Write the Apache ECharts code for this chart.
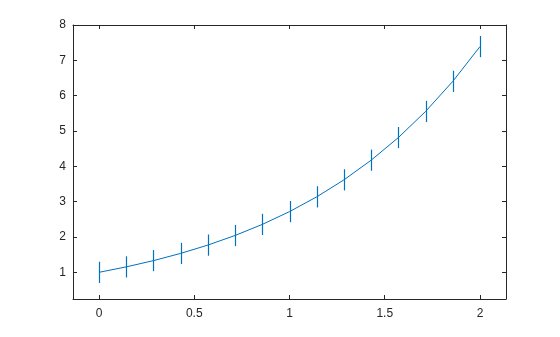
<!DOCTYPE html>
<html><head><meta charset="utf-8">
<script src="https://cdn.jsdelivr.net/npm/echarts@6/dist/echarts.min.js"></script>
<style>html,body{margin:0;padding:0;background:#fff}#c{width:560px;height:337px}</style>
</head><body><div id="c"></div>
<script>
const xValues = [0, 0.1429, 0.2857, 0.4286, 0.5714, 0.7143, 0.8571, 1, 1.1429, 1.2857, 1.4286, 1.5714, 1.7143, 1.8571, 2];
const yValues = [1.0, 1.154, 1.331, 1.535, 1.771, 2.043, 2.356, 2.718, 3.136, 3.617, 4.173, 4.814, 5.553, 6.405, 7.389];
const errValues = [0.3, 0.3, 0.3, 0.3, 0.3, 0.3, 0.3, 0.3, 0.3, 0.3, 0.3, 0.3, 0.3, 0.3, 0.3];
const xTicks = [0, 0.5, 1, 1.5, 2];
const yTicks = [1, 2, 3, 4, 5, 6, 7, 8];

const blue = '#0072BD';
const axisColor = '#262626';
const font = {fontFamily: 'Liberation Sans, Arial, sans-serif', fontSize: 12, color: axisColor};

const lineData = xValues.map((x, i) => [x, yValues[i]]);
const errData = xValues.map((x, i) => [x, yValues[i] - errValues[i], yValues[i] + errValues[i]]);

function xAxisDef(pos, labels) {
  return {
    type: 'value', position: pos, min: -0.1365, max: 2.1365,
    axisLine: {show: true, onZero: false, lineStyle: {color: axisColor, width: 1}},
    axisTick: {show: true, inside: true, length: 4, customValues: xTicks, lineStyle: {color: axisColor}},
    axisLabel: {show: labels, customValues: xTicks, margin: 9, ...font, formatter: v => String(v)},
    splitLine: {show: false}
  };
}
function yAxisDef(pos, labels) {
  return {
    type: 'value', position: pos, min: 0.245, max: 8,
    axisLine: {show: true, onZero: false, lineStyle: {color: axisColor, width: 1}},
    axisTick: {show: true, inside: true, length: 4, customValues: yTicks, lineStyle: {color: axisColor}},
    axisLabel: {show: labels, customValues: yTicks, margin: 7, ...font},
    splitLine: {show: false}
  };
}

const chart = echarts.init(document.getElementById('c'), null, {renderer: 'canvas'});
chart.setOption({
  animation: false,
  backgroundColor: '#fff',
  grid: {left: 73, right: 54, top: 25, bottom: 38, containLabel: false},
  xAxis: [xAxisDef('bottom', true), xAxisDef('top', false)],
  yAxis: [yAxisDef('left', true), yAxisDef('right', false)],
  series: [
    {
      type: 'line', data: lineData, xAxisIndex: 0, yAxisIndex: 0,
      showSymbol: false, smooth: false,
      lineStyle: {color: blue, width: 1}
    },
    {
      type: 'custom', data: errData, xAxisIndex: 0, yAxisIndex: 0,
      encode: {x: 0, y: [1, 2]},
      renderItem: function (params, api) {
        const lo = api.coord([api.value(0), api.value(1)]);
        const hi = api.coord([api.value(0), api.value(2)]);
        const px = Math.round(lo[0]) + 0.5;
        return {
          type: 'line',
          shape: {x1: px, y1: lo[1], x2: px, y2: hi[1]},
          style: {stroke: blue, lineWidth: 1.2}
        };
      }
    }
  ]
});
</script></body></html>
